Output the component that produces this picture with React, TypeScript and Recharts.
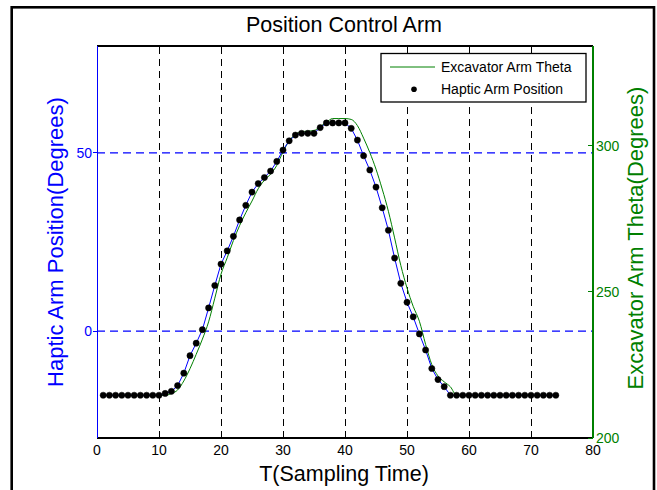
import React from 'react';
import { ComposedChart, Line, XAxis, YAxis, ReferenceLine } from 'recharts';

const sampleTimes = [
  1, 2, 3, 4, 5, 6, 7, 8, 9, 10, 11, 12, 13, 14, 15, 16, 17, 18, 19, 20,
  21, 22, 23, 24, 25, 26, 27, 28, 29, 30, 31, 32, 33, 34, 35, 36, 37, 38, 39, 40,
  41, 42, 43, 44, 45, 46, 47, 48, 49, 50, 51, 52, 53, 54, 55, 56, 57, 58, 59, 60,
  61, 62, 63, 64, 65, 66, 67, 68, 69, 70, 71, 72, 73, 74,
];

const hapticArmPosition = [
  -18, -18, -18, -18, -18, -18, -18, -18, -18, -18,
  -17.5, -16.9, -15.3, -11.8, -6.9, -3.4, 0.4, 6.5, 12.8, 18.8,
  22.5, 26.6, 31.2, 35.3, 39.0, 41.4, 43.1, 44.9, 47.6, 50.8,
  53.4, 55.0, 55.5, 55.5, 55.5, 57.1, 58.4, 58.4, 58.4, 58.4,
  56.9, 53.6, 49.2, 45.2, 40.4, 34.6, 28.3, 20.5, 13.4, 8.1,
  4.0, -0.8, -5.3, -10.5, -13.6, -15.6, -18.0,
  -18, -18, -18, -18, -18, -18, -18, -18, -18, -18, -18, -18, -18, -18, -18, -18, -18,
];

const excavatorArmTheta = [
  214.6, 214.6, 214.6, 214.6, 214.6, 214.6, 214.6, 214.6, 214.6, 214.6, 214.6,
  215.2, 216.4, 219.5, 223.7, 228.6, 233.8, 239.7, 247.8, 256.0,
  261.6, 267.5, 272.6, 277.0, 281.0, 285.2, 288.1, 290.2, 293.2, 297.8,
  301.6, 303.8, 304.7, 304.9, 305.1, 306.5, 307.9, 309.2, 309.2, 309.2,
  308.9, 306.8, 302.5, 297.6, 291.9, 285.1, 277.5, 268.4, 259.0, 251.3,
  245.0, 239.9, 232.0, 225.1, 221.2, 219.2, 217.5,
  214.6, 214.6, 214.6, 214.6, 214.6, 214.6, 214.6, 214.6, 214.6, 214.6, 214.6, 214.6, 214.6, 214.6, 214.6, 214.6, 214.6,
];

const xTicks = [0, 10, 20, 30, 40, 50, 60, 70, 80];
const xGridLines = [10, 20, 30, 40, 50, 60, 70];
const leftTicks = [0, 50];
const rightTicks = [200, 250, 300];
const leftDomain = [-30, 80];
const rightDomain = [200, 334];

const data = sampleTimes.map((t, i) => ({
  t,
  haptic: hapticArmPosition[i],
  excavator: excavatorArmTheta[i],
}));

const FONT = '"Liberation Sans", Arial, Helvetica, sans-serif';
const BLUE = '#0000ff';
const GREEN = '#008000';

const RightTick = (props: any) => {
  const { x, y, payload } = props;
  return (
    <g>
      <line x1={x - 8} x2={x - 3} y1={y} y2={y} stroke={GREEN} strokeWidth={1} shapeRendering="crispEdges" />
      <text x={x} y={y} dy="0.36em" fill={GREEN} fontSize={14} fontFamily={FONT} textAnchor="start">
        {payload.value}
      </text>
    </g>
  );
};

export default function App() {
  return (
    <div style={{ position: 'absolute', left: 0, top: 0, width: 657, height: 490, background: '#fff', overflow: 'hidden' }}>
      <ComposedChart
        width={657}
        height={490}
        data={data}
        margin={{ top: 46, right: 24, bottom: 22, left: 57 }}
        style={{ fontFamily: FONT }}
      >
        <XAxis
          dataKey="t"
          type="number"
          domain={[0, 80]}
          ticks={xTicks}
          interval={0}
          height={30}
          axisLine={{ stroke: '#000', strokeWidth: 2, shapeRendering: 'crispEdges' }}
          tickLine={false}
          tickSize={0}
          tickMargin={7}
          tick={{ fill: '#000', fontSize: 14, fontFamily: FONT }}
        />
        <YAxis
          yAxisId="left"
          orientation="left"
          type="number"
          domain={leftDomain}
          ticks={leftTicks}
          interval={0}
          width={40}
          allowDataOverflow
          axisLine={{ stroke: BLUE, strokeWidth: 1, shapeRendering: 'crispEdges' }}
          tickLine={{ stroke: BLUE, shapeRendering: 'crispEdges' }}
          tickSize={4}
          tickMargin={1}
          tick={{ fill: BLUE, fontSize: 14, fontFamily: FONT }}
        />
        <YAxis
          yAxisId="right"
          orientation="right"
          type="number"
          domain={rightDomain}
          ticks={rightTicks}
          interval={0}
          width={40}
          allowDataOverflow
          axisLine={{ stroke: GREEN, strokeWidth: 1.5, shapeRendering: 'crispEdges' }}
          tickLine={false}
          tickSize={0}
          tickMargin={3}
          tick={<RightTick />}
        />
        {xGridLines.map((x) => (
          <ReferenceLine
            key={'vx' + x}
            x={x}
            yAxisId="left"
            stroke="#000"
            strokeWidth={1}
            strokeDasharray="7 5"
            shapeRendering="crispEdges"
          />
        ))}
        {leftTicks.map((y) => (
          <ReferenceLine
            key={'hy' + y}
            y={y}
            yAxisId="left"
            stroke={BLUE}
            strokeWidth={1.2}
            strokeDasharray="8 5"
          />
        ))}
        <ReferenceLine y={80} yAxisId="left" stroke="#000" strokeWidth={1.5} shapeRendering="crispEdges" />
        <Line
          yAxisId="right"
          dataKey="excavator"
          type="monotone"
          stroke={GREEN}
          strokeWidth={1}
          dot={false}
          activeDot={false}
          isAnimationActive={false}
        />
        <Line
          yAxisId="left"
          dataKey="haptic"
          type="linear"
          stroke={BLUE}
          strokeWidth={1}
          dot={{ r: 3.1, fill: '#000', stroke: '#000', strokeWidth: 0.5 }}
          activeDot={false}
          isAnimationActive={false}
        />
      </ComposedChart>
      <svg
        width={657}
        height={490}
        style={{ position: 'absolute', left: 0, top: 0, pointerEvents: 'none' }}
        fontFamily={FONT}
      >
        <rect x={11.7} y={7.3} width={642.3} height={490} fill="none" stroke="#000" strokeWidth={2.6} />
        <text x={344} y={32} textAnchor="middle" fontSize={21.5} fill="#000">Position Control Arm</text>
        <text x={344} y={481} textAnchor="middle" fontSize={21.5} fill="#000">T(Sampling Time)</text>
        <text transform="translate(63,242) rotate(-90)" textAnchor="middle" fontSize={22} fill={BLUE}>
          Haptic Arm Position(Degrees)
        </text>
        <text transform="translate(643,238) rotate(-90)" textAnchor="middle" fontSize={22} fill={GREEN}>
          Excavator Arm Theta(Degrees)
        </text>
        <rect x={381} y={53.5} width={205} height={48.5} fill="#fff" stroke="#000" strokeWidth={1.3} />
        <line x1={390} x2={435} y1={67} y2={67} stroke={GREEN} strokeWidth={1} />
        <text x={441} y={67} dy="0.36em" fontSize={14} fill="#000">Excavator Arm Theta</text>
        <circle cx={414} cy={89.3} r={2.8} fill="#000" />
        <text x={441} y={89.3} dy="0.36em" fontSize={14} fill="#000">Haptic Arm Position</text>
      </svg>
    </div>
  );
}
